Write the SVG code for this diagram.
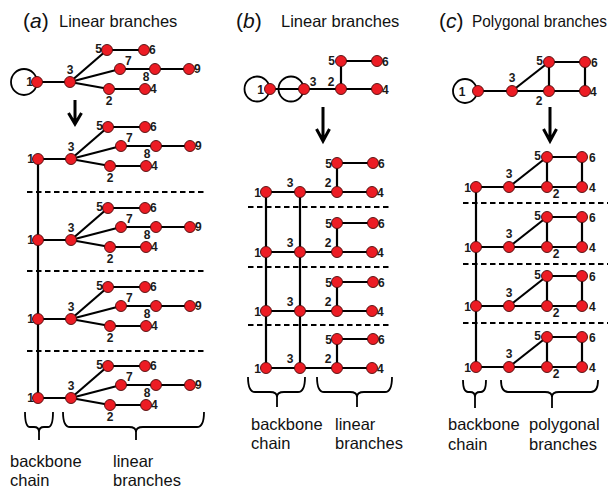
<svg xmlns="http://www.w3.org/2000/svg" xmlns:xlink="http://www.w3.org/1999/xlink" width="616" height="490" viewBox="0 0 616 490">
<style>
.nd{fill:#ec1c24;stroke:#4a0a0a;stroke-width:0.9}
.lb{font-family:"Liberation Sans",Arial,sans-serif;font-weight:bold;font-size:12px;fill:#1a1a1a}
.e{stroke:#000;stroke-width:2.2;fill:none}
.lp{stroke:#000;stroke-width:1.8;fill:none}
.ds{stroke:#000;stroke-width:1.8;stroke-dasharray:5.5 3.5;fill:none}
.br{stroke:#000;stroke-width:1.8;fill:none}
.ar{stroke:#000;stroke-width:3;fill:none;stroke-linejoin:miter}
.tt{font-family:"Liberation Sans",Arial,sans-serif;font-size:16.5px;fill:#111}
.tp{font-family:"Liberation Sans",Arial,sans-serif;font-size:21px;fill:#111}
.bt{font-family:"Liberation Sans",Arial,sans-serif;font-size:16.5px;fill:#111}
</style>
<defs>
<g id="ea">
<line class="e" x1="0" y1="0" x2="33" y2="0"/>
<line class="e" x1="33" y1="0" x2="70" y2="-32"/>
<line class="e" x1="33" y1="0" x2="83" y2="-13"/>
<line class="e" x1="33" y1="0" x2="72" y2="7"/>
<line class="e" x1="70" y1="-32" x2="107" y2="-32"/>
<line class="e" x1="83" y1="-13" x2="152" y2="-13"/>
<line class="e" x1="72" y1="7" x2="108" y2="7"/>
</g>
<g id="eb">
<line class="e" x1="0" y1="0" x2="106" y2="0"/>
<line class="e" x1="71" y1="0" x2="71" y2="-29"/>
<line class="e" x1="71" y1="-29" x2="107" y2="-29"/>
</g>
<g id="ec">
<line class="e" x1="0" y1="0" x2="106" y2="0"/>
<line class="e" x1="33" y1="0" x2="71" y2="-30"/>
<line class="e" x1="71" y1="-30" x2="71" y2="0"/>
<line class="e" x1="71" y1="-30" x2="106" y2="-30"/>
<line class="e" x1="106" y1="-30" x2="106" y2="0"/>
</g>
</defs>

<!-- titles -->
<g id="titles">
<text class="tp" x="23" y="28">(<tspan font-style="italic">a</tspan>)</text>
<text class="tt" x="59" y="27">Linear branches</text>
<text class="tp" x="236" y="28">(<tspan font-style="italic">b</tspan>)</text>
<text class="tt" x="281" y="27">Linear branches</text>
<text class="tp" x="439" y="28">(<tspan font-style="italic">c</tspan>)</text>
<text class="tt" x="472" y="27" textLength="135" lengthAdjust="spacingAndGlyphs">Polygonal branches</text>
</g>

<!-- separators -->
<g id="separators">
<line class="ds" x1="27" y1="192" x2="205" y2="192"/>
<line class="ds" x1="27" y1="271" x2="205" y2="271"/>
<line class="ds" x1="27" y1="351" x2="205" y2="351"/>
<line class="ds" x1="248" y1="207" x2="392" y2="207"/>
<line class="ds" x1="248" y1="267" x2="392" y2="267"/>
<line class="ds" x1="248" y1="325" x2="392" y2="325"/>
<line class="ds" x1="463" y1="203" x2="608" y2="203"/>
<line class="ds" x1="463" y1="264" x2="608" y2="264"/>
<line class="ds" x1="463" y1="323" x2="608" y2="323"/>
</g>

<!-- connectors -->
<g id="connectors">
<use xlink:href="#ea" href="#ea" transform="translate(37,82)"/>
<use xlink:href="#ea" href="#ea" transform="translate(38,159)"/>
<use xlink:href="#ea" href="#ea" transform="translate(38,240)"/>
<use xlink:href="#ea" href="#ea" transform="translate(38,319)"/>
<use xlink:href="#ea" href="#ea" transform="translate(38,398)"/>
<line class="e" x1="38" y1="159" x2="38" y2="398"/>
<circle class="lp" cx="24" cy="82" r="13"/>

<line class="e" x1="270" y1="89" x2="377" y2="89"/>
<line class="e" x1="341" y1="89" x2="341" y2="61"/>
<line class="e" x1="341" y1="61" x2="377" y2="61"/>
<circle class="lp" cx="257" cy="89" r="12.5"/>
<circle class="lp" cx="291" cy="89" r="12.5"/>
<use xlink:href="#eb" href="#eb" transform="translate(266,192)"/>
<use xlink:href="#eb" href="#eb" transform="translate(266,252)"/>
<use xlink:href="#eb" href="#eb" transform="translate(266,311)"/>
<use xlink:href="#eb" href="#eb" transform="translate(266,368)"/>
<line class="e" x1="266" y1="192" x2="266" y2="368"/>
<line class="e" x1="300" y1="192" x2="300" y2="368"/>

<line class="e" x1="478" y1="91" x2="585" y2="91"/>
<line class="e" x1="512" y1="91" x2="549" y2="62"/>
<line class="e" x1="549" y1="62" x2="549" y2="91"/>
<line class="e" x1="549" y1="62" x2="585" y2="62"/>
<line class="e" x1="585" y1="62" x2="585" y2="91"/>
<circle class="lp" cx="465" cy="91" r="12"/>
<use xlink:href="#ec" href="#ec" transform="translate(476,187)"/>
<use xlink:href="#ec" href="#ec" transform="translate(476,247)"/>
<use xlink:href="#ec" href="#ec" transform="translate(476,306)"/>
<use xlink:href="#ec" href="#ec" transform="translate(476,367)"/>
<line class="e" x1="476" y1="187" x2="476" y2="367"/>
</g>

<!-- arrows -->
<g id="arrows">
<path class="ar" d="M75,100 V123 M68.5,113 L75,124 L81.5,113"/>
<path class="ar" d="M323,107 V140 M316.5,129 L323,141 L329.5,129"/>
<path class="ar" d="M550,107 V140 M543.5,129 L550,141 L556.5,129"/>
</g>

<!-- panel a nodes -->
<g id="a0" transform="translate(37,82)">
<g id="a0-n1"><circle class="nd" cx="0" cy="0" r="5.5"/><text class="lb" x="-4" y="4" text-anchor="end">1</text></g>
<g id="a0-n3"><circle class="nd" cx="33" cy="0" r="5.5"/><text class="lb" x="33" y="-8" text-anchor="middle">3</text></g>
<g id="a0-n5"><circle class="nd" cx="70" cy="-32" r="5.5"/><text class="lb" x="65" y="-29" text-anchor="end">5</text></g>
<g id="a0-n6"><circle class="nd" cx="107" cy="-32" r="5.5"/><text class="lb" x="112" y="-28" text-anchor="start">6</text></g>
<g id="a0-n7"><circle class="nd" cx="83" cy="-13" r="5.5"/><text class="lb" x="88" y="-17" text-anchor="start">7</text></g>
<g id="a0-n8"><circle class="nd" cx="118" cy="-13" r="5.5"/><text class="lb" x="109" y="-1" text-anchor="middle">8</text></g>
<g id="a0-n9"><circle class="nd" cx="152" cy="-13" r="5.5"/><text class="lb" x="157" y="-9" text-anchor="start">9</text></g>
<g id="a0-n2"><circle class="nd" cx="72" cy="7" r="5.5"/><text class="lb" x="72" y="23" text-anchor="middle">2</text></g>
<g id="a0-n4"><circle class="nd" cx="108" cy="7" r="5.5"/><text class="lb" x="113" y="11" text-anchor="start">4</text></g>
</g>
<g id="a1" transform="translate(38,159)">
<g id="a1-n1"><circle class="nd" cx="0" cy="0" r="5.5"/><text class="lb" x="-4" y="4" text-anchor="end">1</text></g>
<g id="a1-n3"><circle class="nd" cx="33" cy="0" r="5.5"/><text class="lb" x="33" y="-8" text-anchor="middle">3</text></g>
<g id="a1-n5"><circle class="nd" cx="70" cy="-32" r="5.5"/><text class="lb" x="65" y="-29" text-anchor="end">5</text></g>
<g id="a1-n6"><circle class="nd" cx="107" cy="-32" r="5.5"/><text class="lb" x="112" y="-28" text-anchor="start">6</text></g>
<g id="a1-n7"><circle class="nd" cx="83" cy="-13" r="5.5"/><text class="lb" x="88" y="-17" text-anchor="start">7</text></g>
<g id="a1-n8"><circle class="nd" cx="118" cy="-13" r="5.5"/><text class="lb" x="109" y="-1" text-anchor="middle">8</text></g>
<g id="a1-n9"><circle class="nd" cx="152" cy="-13" r="5.5"/><text class="lb" x="157" y="-9" text-anchor="start">9</text></g>
<g id="a1-n2"><circle class="nd" cx="72" cy="7" r="5.5"/><text class="lb" x="72" y="23" text-anchor="middle">2</text></g>
<g id="a1-n4"><circle class="nd" cx="108" cy="7" r="5.5"/><text class="lb" x="113" y="11" text-anchor="start">4</text></g>
</g>
<g id="a2" transform="translate(38,240)">
<g id="a2-n1"><circle class="nd" cx="0" cy="0" r="5.5"/><text class="lb" x="-4" y="4" text-anchor="end">1</text></g>
<g id="a2-n3"><circle class="nd" cx="33" cy="0" r="5.5"/><text class="lb" x="33" y="-8" text-anchor="middle">3</text></g>
<g id="a2-n5"><circle class="nd" cx="70" cy="-32" r="5.5"/><text class="lb" x="65" y="-29" text-anchor="end">5</text></g>
<g id="a2-n6"><circle class="nd" cx="107" cy="-32" r="5.5"/><text class="lb" x="112" y="-28" text-anchor="start">6</text></g>
<g id="a2-n7"><circle class="nd" cx="83" cy="-13" r="5.5"/><text class="lb" x="88" y="-17" text-anchor="start">7</text></g>
<g id="a2-n8"><circle class="nd" cx="118" cy="-13" r="5.5"/><text class="lb" x="109" y="-1" text-anchor="middle">8</text></g>
<g id="a2-n9"><circle class="nd" cx="152" cy="-13" r="5.5"/><text class="lb" x="157" y="-9" text-anchor="start">9</text></g>
<g id="a2-n2"><circle class="nd" cx="72" cy="7" r="5.5"/><text class="lb" x="72" y="23" text-anchor="middle">2</text></g>
<g id="a2-n4"><circle class="nd" cx="108" cy="7" r="5.5"/><text class="lb" x="113" y="11" text-anchor="start">4</text></g>
</g>
<g id="a3" transform="translate(38,319)">
<g id="a3-n1"><circle class="nd" cx="0" cy="0" r="5.5"/><text class="lb" x="-4" y="4" text-anchor="end">1</text></g>
<g id="a3-n3"><circle class="nd" cx="33" cy="0" r="5.5"/><text class="lb" x="33" y="-8" text-anchor="middle">3</text></g>
<g id="a3-n5"><circle class="nd" cx="70" cy="-32" r="5.5"/><text class="lb" x="65" y="-29" text-anchor="end">5</text></g>
<g id="a3-n6"><circle class="nd" cx="107" cy="-32" r="5.5"/><text class="lb" x="112" y="-28" text-anchor="start">6</text></g>
<g id="a3-n7"><circle class="nd" cx="83" cy="-13" r="5.5"/><text class="lb" x="88" y="-17" text-anchor="start">7</text></g>
<g id="a3-n8"><circle class="nd" cx="118" cy="-13" r="5.5"/><text class="lb" x="109" y="-1" text-anchor="middle">8</text></g>
<g id="a3-n9"><circle class="nd" cx="152" cy="-13" r="5.5"/><text class="lb" x="157" y="-9" text-anchor="start">9</text></g>
<g id="a3-n2"><circle class="nd" cx="72" cy="7" r="5.5"/><text class="lb" x="72" y="23" text-anchor="middle">2</text></g>
<g id="a3-n4"><circle class="nd" cx="108" cy="7" r="5.5"/><text class="lb" x="113" y="11" text-anchor="start">4</text></g>
</g>
<g id="a4" transform="translate(38,398)">
<g id="a4-n1"><circle class="nd" cx="0" cy="0" r="5.5"/><text class="lb" x="-4" y="4" text-anchor="end">1</text></g>
<g id="a4-n3"><circle class="nd" cx="33" cy="0" r="5.5"/><text class="lb" x="33" y="-8" text-anchor="middle">3</text></g>
<g id="a4-n5"><circle class="nd" cx="70" cy="-32" r="5.5"/><text class="lb" x="65" y="-29" text-anchor="end">5</text></g>
<g id="a4-n6"><circle class="nd" cx="107" cy="-32" r="5.5"/><text class="lb" x="112" y="-28" text-anchor="start">6</text></g>
<g id="a4-n7"><circle class="nd" cx="83" cy="-13" r="5.5"/><text class="lb" x="88" y="-17" text-anchor="start">7</text></g>
<g id="a4-n8"><circle class="nd" cx="118" cy="-13" r="5.5"/><text class="lb" x="109" y="-1" text-anchor="middle">8</text></g>
<g id="a4-n9"><circle class="nd" cx="152" cy="-13" r="5.5"/><text class="lb" x="157" y="-9" text-anchor="start">9</text></g>
<g id="a4-n2"><circle class="nd" cx="72" cy="7" r="5.5"/><text class="lb" x="72" y="23" text-anchor="middle">2</text></g>
<g id="a4-n4"><circle class="nd" cx="108" cy="7" r="5.5"/><text class="lb" x="113" y="11" text-anchor="start">4</text></g>
</g>

<!-- panel b nodes -->
<g id="b0">
<g id="b0-n1"><circle class="nd" cx="270" cy="89" r="5.5"/><text class="lb" x="260.5" y="93.5" text-anchor="middle">1</text></g>
<g id="b0-n3"><circle class="nd" cx="304" cy="89" r="5.5"/><text class="lb" x="313" y="86" text-anchor="middle">3</text></g>
<g id="b0-n2"><circle class="nd" cx="341" cy="89" r="5.5"/><text class="lb" x="331" y="86" text-anchor="middle">2</text></g>
<g id="b0-n4"><circle class="nd" cx="377" cy="89" r="5.5"/><text class="lb" x="382" y="93.5" text-anchor="start">4</text></g>
<g id="b0-n5"><circle class="nd" cx="341" cy="61" r="5.5"/><text class="lb" x="335" y="65" text-anchor="end">5</text></g>
<g id="b0-n6"><circle class="nd" cx="377" cy="61" r="5.5"/><text class="lb" x="382" y="65.5" text-anchor="start">6</text></g>
</g>
<g id="b1" transform="translate(266,192)">
<g id="b1-n1"><circle class="nd" cx="0" cy="0" r="5.5"/><text class="lb" x="-5" y="4.5" text-anchor="end">1</text></g>
<g id="b1-n3"><circle class="nd" cx="34" cy="0" r="5.5"/><text class="lb" x="24" y="-5" text-anchor="middle">3</text></g>
<g id="b1-n2"><circle class="nd" cx="71" cy="0" r="5.5"/><text class="lb" x="62" y="-5" text-anchor="middle">2</text></g>
<g id="b1-n4"><circle class="nd" cx="106" cy="0" r="5.5"/><text class="lb" x="111" y="4.5" text-anchor="start">4</text></g>
<g id="b1-n5"><circle class="nd" cx="71" cy="-29" r="5.5"/><text class="lb" x="66" y="-24.5" text-anchor="end">5</text></g>
<g id="b1-n6"><circle class="nd" cx="107" cy="-29" r="5.5"/><text class="lb" x="112" y="-24.5" text-anchor="start">6</text></g>
</g>
<g id="b2" transform="translate(266,252)">
<g id="b2-n1"><circle class="nd" cx="0" cy="0" r="5.5"/><text class="lb" x="-5" y="4.5" text-anchor="end">1</text></g>
<g id="b2-n3"><circle class="nd" cx="34" cy="0" r="5.5"/><text class="lb" x="24" y="-5" text-anchor="middle">3</text></g>
<g id="b2-n2"><circle class="nd" cx="71" cy="0" r="5.5"/><text class="lb" x="62" y="-5" text-anchor="middle">2</text></g>
<g id="b2-n4"><circle class="nd" cx="106" cy="0" r="5.5"/><text class="lb" x="111" y="4.5" text-anchor="start">4</text></g>
<g id="b2-n5"><circle class="nd" cx="71" cy="-29" r="5.5"/><text class="lb" x="66" y="-24.5" text-anchor="end">5</text></g>
<g id="b2-n6"><circle class="nd" cx="107" cy="-29" r="5.5"/><text class="lb" x="112" y="-24.5" text-anchor="start">6</text></g>
</g>
<g id="b3" transform="translate(266,311)">
<g id="b3-n1"><circle class="nd" cx="0" cy="0" r="5.5"/><text class="lb" x="-5" y="4.5" text-anchor="end">1</text></g>
<g id="b3-n3"><circle class="nd" cx="34" cy="0" r="5.5"/><text class="lb" x="24" y="-5" text-anchor="middle">3</text></g>
<g id="b3-n2"><circle class="nd" cx="71" cy="0" r="5.5"/><text class="lb" x="62" y="-5" text-anchor="middle">2</text></g>
<g id="b3-n4"><circle class="nd" cx="106" cy="0" r="5.5"/><text class="lb" x="111" y="4.5" text-anchor="start">4</text></g>
<g id="b3-n5"><circle class="nd" cx="71" cy="-29" r="5.5"/><text class="lb" x="66" y="-24.5" text-anchor="end">5</text></g>
<g id="b3-n6"><circle class="nd" cx="107" cy="-29" r="5.5"/><text class="lb" x="112" y="-24.5" text-anchor="start">6</text></g>
</g>
<g id="b4" transform="translate(266,368)">
<g id="b4-n1"><circle class="nd" cx="0" cy="0" r="5.5"/><text class="lb" x="-5" y="4.5" text-anchor="end">1</text></g>
<g id="b4-n3"><circle class="nd" cx="34" cy="0" r="5.5"/><text class="lb" x="24" y="-5" text-anchor="middle">3</text></g>
<g id="b4-n2"><circle class="nd" cx="71" cy="0" r="5.5"/><text class="lb" x="62" y="-5" text-anchor="middle">2</text></g>
<g id="b4-n4"><circle class="nd" cx="106" cy="0" r="5.5"/><text class="lb" x="111" y="4.5" text-anchor="start">4</text></g>
<g id="b4-n5"><circle class="nd" cx="71" cy="-29" r="5.5"/><text class="lb" x="66" y="-24.5" text-anchor="end">5</text></g>
<g id="b4-n6"><circle class="nd" cx="107" cy="-29" r="5.5"/><text class="lb" x="112" y="-24.5" text-anchor="start">6</text></g>
</g>

<!-- panel c nodes -->
<g id="c0">
<g id="c0-n1"><circle class="nd" cx="478" cy="91" r="5.5"/><text class="lb" x="462" y="95.5" text-anchor="middle">1</text></g>
<g id="c0-n3"><circle class="nd" cx="512" cy="91" r="5.5"/><text class="lb" x="512" y="82" text-anchor="middle">3</text></g>
<g id="c0-n2"><circle class="nd" cx="549" cy="91" r="5.5"/><text class="lb" x="539" y="105" text-anchor="middle">2</text></g>
<g id="c0-n4"><circle class="nd" cx="585" cy="91" r="5.5"/><text class="lb" x="590" y="95.5" text-anchor="start">4</text></g>
<g id="c0-n5"><circle class="nd" cx="549" cy="62" r="5.5"/><text class="lb" x="543" y="65" text-anchor="end">5</text></g>
<g id="c0-n6"><circle class="nd" cx="585" cy="62" r="5.5"/><text class="lb" x="591" y="67" text-anchor="start">6</text></g>
</g>
<g id="c1" transform="translate(476,187)">
<g id="c1-n1"><circle class="nd" cx="0" cy="0" r="5.5"/><text class="lb" x="-5" y="4.5" text-anchor="end">1</text></g>
<g id="c1-n3"><circle class="nd" cx="33" cy="0" r="5.5"/><text class="lb" x="33" y="-9" text-anchor="middle">3</text></g>
<g id="c1-n2"><circle class="nd" cx="71" cy="0" r="5.5"/><text class="lb" x="80" y="11" text-anchor="middle">2</text></g>
<g id="c1-n4"><circle class="nd" cx="106" cy="0" r="5.5"/><text class="lb" x="113" y="4.5" text-anchor="start">4</text></g>
<g id="c1-n5"><circle class="nd" cx="71" cy="-30" r="5.5"/><text class="lb" x="65" y="-27" text-anchor="end">5</text></g>
<g id="c1-n6"><circle class="nd" cx="106" cy="-30" r="5.5"/><text class="lb" x="113" y="-25" text-anchor="start">6</text></g>
</g>
<g id="c2" transform="translate(476,247)">
<g id="c2-n1"><circle class="nd" cx="0" cy="0" r="5.5"/><text class="lb" x="-5" y="4.5" text-anchor="end">1</text></g>
<g id="c2-n3"><circle class="nd" cx="33" cy="0" r="5.5"/><text class="lb" x="33" y="-9" text-anchor="middle">3</text></g>
<g id="c2-n2"><circle class="nd" cx="71" cy="0" r="5.5"/><text class="lb" x="80" y="11" text-anchor="middle">2</text></g>
<g id="c2-n4"><circle class="nd" cx="106" cy="0" r="5.5"/><text class="lb" x="113" y="4.5" text-anchor="start">4</text></g>
<g id="c2-n5"><circle class="nd" cx="71" cy="-30" r="5.5"/><text class="lb" x="65" y="-27" text-anchor="end">5</text></g>
<g id="c2-n6"><circle class="nd" cx="106" cy="-30" r="5.5"/><text class="lb" x="113" y="-25" text-anchor="start">6</text></g>
</g>
<g id="c3" transform="translate(476,306)">
<g id="c3-n1"><circle class="nd" cx="0" cy="0" r="5.5"/><text class="lb" x="-5" y="4.5" text-anchor="end">1</text></g>
<g id="c3-n3"><circle class="nd" cx="33" cy="0" r="5.5"/><text class="lb" x="33" y="-9" text-anchor="middle">3</text></g>
<g id="c3-n2"><circle class="nd" cx="71" cy="0" r="5.5"/><text class="lb" x="80" y="11" text-anchor="middle">2</text></g>
<g id="c3-n4"><circle class="nd" cx="106" cy="0" r="5.5"/><text class="lb" x="113" y="4.5" text-anchor="start">4</text></g>
<g id="c3-n5"><circle class="nd" cx="71" cy="-30" r="5.5"/><text class="lb" x="65" y="-27" text-anchor="end">5</text></g>
<g id="c3-n6"><circle class="nd" cx="106" cy="-30" r="5.5"/><text class="lb" x="113" y="-25" text-anchor="start">6</text></g>
</g>
<g id="c4" transform="translate(476,367)">
<g id="c4-n1"><circle class="nd" cx="0" cy="0" r="5.5"/><text class="lb" x="-5" y="4.5" text-anchor="end">1</text></g>
<g id="c4-n3"><circle class="nd" cx="33" cy="0" r="5.5"/><text class="lb" x="33" y="-9" text-anchor="middle">3</text></g>
<g id="c4-n2"><circle class="nd" cx="71" cy="0" r="5.5"/><text class="lb" x="80" y="11" text-anchor="middle">2</text></g>
<g id="c4-n4"><circle class="nd" cx="106" cy="0" r="5.5"/><text class="lb" x="113" y="4.5" text-anchor="start">4</text></g>
<g id="c4-n5"><circle class="nd" cx="71" cy="-30" r="5.5"/><text class="lb" x="65" y="-27" text-anchor="end">5</text></g>
<g id="c4-n6"><circle class="nd" cx="106" cy="-30" r="5.5"/><text class="lb" x="113" y="-25" text-anchor="start">6</text></g>
</g>

<!-- braces -->
<g id="braces">
<path class="br" d="M25,412 Q25,427 30,427 L34,427 Q39,427 39,432 L39,440 M39,432 Q39,427 44,427 L48,427 Q53,427 53,412"/>
<path class="br" d="M63,412 Q63,427 70,427 L129,427 Q136,427 136,432 L136,440 M136,432 Q136,427 143,427 L197,427 Q204,427 204,412"/>
<path class="br" d="M248,377 Q248,392 255,392 L270,392 Q277,392 277,397 L277,407 M277,397 Q277,392 284,392 L298,392 Q305,392 305,377"/>
<path class="br" d="M317,377 Q317,392 324,392 L350,392 Q357,392 357,397 L357,407 M357,397 Q357,392 364,392 L385,392 Q392,392 392,377"/>
<path class="br" d="M463,380 Q463,392 468,392 L470,392 Q475,392 475,397 L475,408 M475,397 Q475,392 480,392 L481,392 Q486,392 486,380"/>
<path class="br" d="M501,380 Q501,392 508,392 L545,392 Q552,392 552,397 L552,408 M552,397 Q552,392 559,392 L591,392 Q598,392 598,380"/>
</g>

<!-- bottom labels -->
<g id="captions">
<text class="bt" x="10" y="467">backbone</text>
<text class="bt" x="10" y="486">chain</text>
<text class="bt" x="113" y="467">linear</text>
<text class="bt" x="113" y="486">branches</text>
<text class="bt" x="251" y="430">backbone</text>
<text class="bt" x="251" y="449">chain</text>
<text class="bt" x="335" y="430">linear</text>
<text class="bt" x="335" y="449">branches</text>
<text class="bt" x="448" y="430">backbone</text>
<text class="bt" x="448" y="450">chain</text>
<text class="bt" x="529" y="430">polygonal</text>
<text class="bt" x="529" y="450">branches</text>
</g>
</svg>
